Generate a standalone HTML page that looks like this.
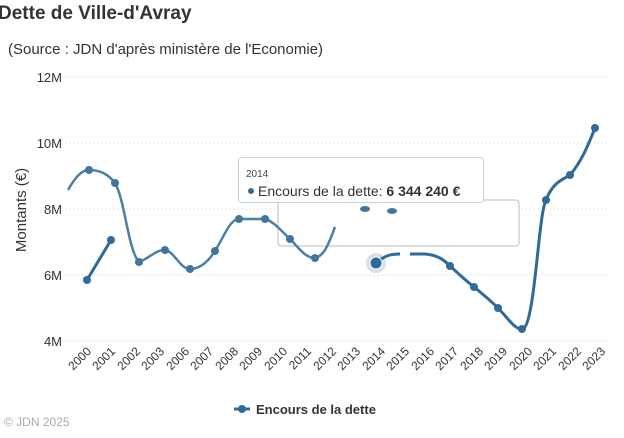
<!DOCTYPE html>
<html><head><meta charset="utf-8"><style>
body{margin:0;width:624px;height:433px;background:#fff;overflow:hidden;font-family:"Liberation Sans",sans-serif}
</style></head><body>
<svg width="624" height="433" xmlns="http://www.w3.org/2000/svg" font-family="Liberation Sans, sans-serif">
<text x="-2" y="19" font-size="19" font-weight="bold" fill="#333">Dette de Ville-d'Avray</text>
<text x="8" y="54" font-size="15" fill="#333">(Source : JDN d'après ministère de l'Economie)</text>
<g stroke="#ccc" stroke-dasharray="1,3">
<line x1="66" x2="610" y1="77" y2="77"/><line x1="66" x2="610" y1="143" y2="143"/>
<line x1="66" x2="610" y1="209" y2="209"/><line x1="66" x2="610" y1="275" y2="275"/>
<line x1="66" x2="610" y1="341" y2="341"/></g>
<g font-size="13" fill="#333" text-anchor="end">
<text x="62" y="82">12M</text><text x="62" y="148">10M</text><text x="62" y="214">8M</text><text x="62" y="280">6M</text><text x="62" y="346">4M</text></g>
<text transform="translate(26,210) rotate(-90)" font-size="15" fill="#333" text-anchor="middle">Montants (€)</text>
<g font-size="12" fill="#333" text-anchor="end">
<text transform="translate(92,352) rotate(-45)">2000</text><text transform="translate(116,352) rotate(-45)">2001</text>
<text transform="translate(141,352) rotate(-45)">2002</text><text transform="translate(165,352) rotate(-45)">2003</text>
<text transform="translate(190,352) rotate(-45)">2006</text><text transform="translate(214,352) rotate(-45)">2007</text>
<text transform="translate(239,352) rotate(-45)">2008</text><text transform="translate(263,352) rotate(-45)">2009</text>
<text transform="translate(288,352) rotate(-45)">2010</text><text transform="translate(312,352) rotate(-45)">2011</text>
<text transform="translate(337,352) rotate(-45)">2012</text><text transform="translate(361,352) rotate(-45)">2013</text>
<text transform="translate(386,352) rotate(-45)">2014</text><text transform="translate(410,352) rotate(-45)">2015</text>
<text transform="translate(435,352) rotate(-45)">2016</text><text transform="translate(459,352) rotate(-45)">2017</text>
<text transform="translate(484,352) rotate(-45)">2018</text><text transform="translate(508,352) rotate(-45)">2019</text>
<text transform="translate(533,352) rotate(-45)">2020</text><text transform="translate(557,352) rotate(-45)">2021</text>
<text transform="translate(582,352) rotate(-45)">2022</text><text transform="translate(606,352) rotate(-45)">2023</text></g>
<rect x="278" y="200" width="241" height="46" rx="3" fill="#fff" stroke="#bbb"/>
<path d="M68,190 C76,176 82,170 89,170 C100,170 108,174 115,183 C125,200 128,250 139,262 C150,258 155,250 165,250 C175,252 180,269 190,269 C200,269 208,262 215,251 C225,235 230,219 239,219 L265,219 C275,222 282,232 290,239 C298,247 305,258 315,258 C325,256 330,240 335,227" fill="none" stroke="#4b7fa6" stroke-width="2.5"/>
<g fill="#3f75a0"><circle cx="89" cy="170" r="4"/><circle cx="115" cy="183" r="4"/><circle cx="139" cy="262" r="4"/><circle cx="165" cy="250" r="4"/><circle cx="190" cy="269" r="4"/><circle cx="215" cy="251" r="4"/><circle cx="239" cy="219" r="4"/><circle cx="265" cy="219" r="4"/><circle cx="290" cy="239" r="4"/><circle cx="315" cy="258" r="4"/>
<ellipse cx="365" cy="209" rx="5" ry="3"/><ellipse cx="392" cy="211" rx="5" ry="3"/></g>
<line x1="87" y1="280" x2="111" y2="240" stroke="#2f6a99" stroke-width="3"/>
<circle cx="87" cy="280" r="4" fill="#2f6a99"/><circle cx="111" cy="240" r="4" fill="#2f6a99"/>
<path d="M376,263 C385,255 392,254 400,254 M410,254 L425,254 C438,255 444,260 450,266 C460,275 465,280 474,287 C485,296 490,300 498,308 C508,318 514,329 522,329 C535,329 538,215 546,200 C553,182 562,180 570,175 C583,160 590,140 595,128" fill="none" stroke="#2f6a99" stroke-width="3"/>
<circle cx="376" cy="263" r="10" fill="#2f6a99" opacity="0.2"/><circle cx="376" cy="263" r="6" fill="#2f6a99" stroke="#fff"/>
<g fill="#2f6a99"><circle cx="450" cy="266" r="4"/><circle cx="474" cy="287" r="4"/><circle cx="498" cy="308" r="4"/><circle cx="522" cy="329" r="4"/><circle cx="546" cy="200" r="4"/><circle cx="570" cy="175" r="4"/><circle cx="595" cy="128" r="4"/></g>
<rect x="238.5" y="157.5" width="245" height="45" rx="3" fill="#fff" fill-opacity="0.95" stroke="#c5d3de"/>
<text x="246" y="177" font-size="10" fill="#444">2014</text>
<circle cx="251" cy="191" r="3" fill="#2f6a99"/>
<text x="258" y="196" font-size="14" fill="#333">Encours de la dette: <tspan font-weight="bold">6 344 240 €</tspan></text>
<line x1="234" y1="409" x2="250" y2="409" stroke="#2f6a99" stroke-width="3"/><circle cx="242" cy="409" r="4" fill="#2f6a99"/>
<text x="256" y="414" font-size="13" font-weight="bold" fill="#333">Encours de la dette</text>
<text x="4" y="426" font-size="12" fill="#aaa">© JDN 2025</text>
</svg>
</body></html>
